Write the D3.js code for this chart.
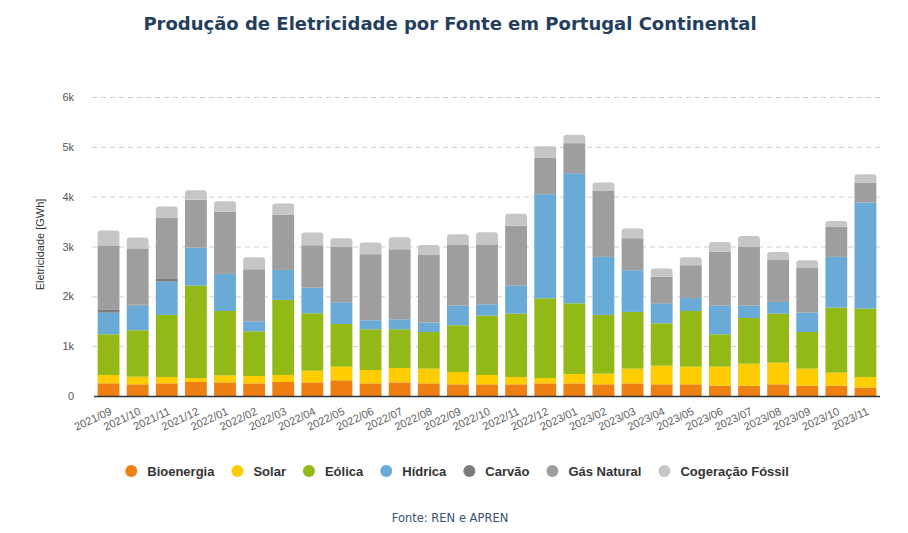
<!DOCTYPE html>
<html>
<head>
<meta charset="utf-8">
<script src="https://cdn.jsdelivr.net/npm/d3@7"></script>
<style>
body { margin: 0; background: #fff; }
svg { display: block; }
</style>
</head>
<body>
<div id="graph"></div>
<script>
var months = ['2021/09','2021/10','2021/11','2021/12','2022/01','2022/02','2022/03','2022/04','2022/05','2022/06','2022/07','2022/08','2022/09','2022/10','2022/11','2022/12','2023/01','2023/02','2023/03','2023/04','2023/05','2023/06','2023/07','2023/08','2023/09','2023/10','2023/11'];

var bioenergia = [255,234,254,281,274,254,281,274,315,254,274,254,234,234,234,254,254,234,254,234,234,207,207,234,207,207,167];
var solar      = [167,154,128,80,141,148,141,235,274,268,288,295,248,188,148,107,188,214,295,375,355,382,442,435,342,262,215];
var eolica     = [817,931,1245,1855,1292,897,1506,1151,857,817,777,736,937,1191,1271,1600,1419,1179,1138,850,1118,649,917,984,736,1305,1372];
var hidrica    = [434,495,669,763,743,200,602,515,435,180,200,188,395,228,563,2089,2610,1164,836,402,261,576,248,235,388,1017,2128];
var carvao     = [54,20,53,0,0,0,0,0,0,0,0,0,0,0,0,0,0,0,0,0,0,0,0,0,0,0,0];
var gasNatural = [1285,1118,1232,957,1251,1045,1111,850,1118,1326,1406,1358,1218,1191,1198,736,603,1325,643,535,656,1084,1185,843,897,609,402];
var cogeracao  = [308,227,221,194,208,240,221,255,167,234,241,201,214,254,241,227,167,168,194,161,160,194,214,161,154,114,167];

var seriesNames = ['Bioenergia','Solar','Eólica','Hídrica','Carvão','Gás Natural','Cogeração Fóssil'];
var seriesValues = [bioenergia, solar, eolica, hidrica, carvao, gasNatural, cogeracao];
var colors = ['#ee7f12','#ffcc00','#93b916','#6aaad7','#7c7c7c','#9e9e9e','#c6c6c6'];
var yTicks = [0,1000,2000,3000,4000,5000,6000];

var sans = "'Liberation Sans', Arial, sans-serif",
verdana = "'DejaVu Sans', Verdana, sans-serif";

var svgWidth = 908,
svgHeight = 533,
svg = d3.select('#graph').append('svg').attr('width', svgWidth).attr('height', svgHeight),
margin = {top: 97, right: 28, bottom: 137, left: 94},
width = svgWidth - margin.left - margin.right,
height = svgHeight - margin.top - margin.bottom;

// table for d3.stack
var table = months.map(function(m, i) {
    var row = {month: m};
    seriesNames.forEach(function(s, j) { row[s] = seriesValues[j][i]; });
    return row;
});
var stacked = d3.stack().keys(seriesNames)(table);

var x = d3.scaleBand().domain(months).range([0, width]).paddingInner(0.25).paddingOuter(0.125);
var y = d3.scaleLinear().domain([0, 6000]).range([height, 0]);

svg.append('text')
.attr('x', 450).attr('y', 30)
.style('text-anchor', 'middle')
.style('font-family', verdana)
.style('font-weight', 'bold')
.style('font-size', '18px')
.style('fill', '#243e5e')
.text('Produção de Eletricidade por Fonte em Portugal Continental');

var g = svg.append('g').attr('transform', 'translate(' + margin.left + ',' + margin.top + ')');

// grid
g.append('g').selectAll('line').data(yTicks.slice(1)).enter().append('line')
.attr('x1', -2).attr('x2', width)
.attr('y1', function(d) { return y(d) + 0.5; })
.attr('y2', function(d) { return y(d) + 0.5; })
.attr('stroke', '#cfcfcf')
.attr('stroke-dasharray', '5,4');

// y labels
g.append('g').selectAll('text').data(yTicks).enter().append('text')
.attr('x', -20).attr('y', function(d) { return y(d) + 4; })
.style('text-anchor', 'end')
.style('font-family', sans)
.style('font-size', '11px')
.style('fill', '#555')
.text(function(d) { return d === 0 ? '0' : (d / 1000) + 'k'; });

g.append('text')
.attr('transform', 'rotate(-90)')
.attr('x', -height / 2 + 2).attr('y', -50)
.style('text-anchor', 'middle')
.style('font-family', sans)
.style('font-size', '11px')
.style('fill', '#333')
.text('Eletricidade [GWh]');

// rounded top for the last segment
function topPath(x0, y0, w, h, r) {
    r = Math.min(r, h, w / 2);
    return 'M' + x0 + ',' + (y0 + h) + 'V' + (y0 + r) +
        'Q' + x0 + ',' + y0 + ' ' + (x0 + r) + ',' + y0 +
        'H' + (x0 + w - r) +
        'Q' + (x0 + w) + ',' + y0 + ' ' + (x0 + w) + ',' + (y0 + r) +
        'V' + (y0 + h) + 'Z';
}

stacked.forEach(function(layer, k) {
    var lg = g.append('g').attr('fill', colors[k]);
    if (k < stacked.length - 1) {
        lg.selectAll('rect').data(layer).enter().append('rect')
        .attr('x', function(d) { return x(d.data.month); })
        .attr('width', x.bandwidth())
        .attr('y', function(d) { return y(d[1]); })
        .attr('height', function(d) { return y(d[0]) - y(d[1]); });
    } else {
        lg.selectAll('path').data(layer).enter().append('path')
        .attr('d', function(d) {
            return topPath(x(d.data.month), y(d[1]), x.bandwidth(), y(d[0]) - y(d[1]), 3);
        });
    }
});

// baseline
g.append('line')
.attr('x1', 0).attr('x2', width)
.attr('y1', height + 0.5).attr('y2', height + 0.5)
.attr('stroke', '#333').attr('stroke-width', 1.5);

// x labels
g.append('g').selectAll('text').data(months).enter().append('text')
.attr('transform', function(d) {
    return 'translate(' + (x(d) + x.bandwidth() / 2 + 4) + ',' + (height + 18) + ') rotate(-25)';
})
.style('text-anchor', 'end')
.style('font-family', sans)
.style('font-size', '11px')
.style('fill', '#606060')
.text(function(d) { return d; });

// legend
var legend = svg.append('g').attr('transform', 'translate(0,471)');
var items = legend.selectAll('g').data(seriesNames).enter().append('g');
items.append('circle').attr('r', 6).attr('cx', 6).attr('cy', 0)
.attr('fill', function(d, i) { return colors[i]; });
items.append('text').attr('x', 22).attr('y', 4.5)
.style('font-family', sans)
.style('font-weight', 'bold')
.style('font-size', '13px')
.style('fill', '#333')
.text(function(d) { return d; });
var gap = 17, pos = 0, offsets = [];
items.each(function() {
    offsets.push(pos);
    pos += 22 + this.querySelector('text').getComputedTextLength() + gap;
});
var start = 457 - (pos - gap) / 2;
items.attr('transform', function(d, i) { return 'translate(' + (start + offsets[i]) + ',0)'; });

svg.append('text')
.attr('x', 450).attr('y', 522)
.style('text-anchor', 'middle')
.style('font-family', verdana)
.style('font-size', '11.5px')
.style('fill', '#3a5272')
.text('Fonte: REN e APREN');
</script>
</body>
</html>
